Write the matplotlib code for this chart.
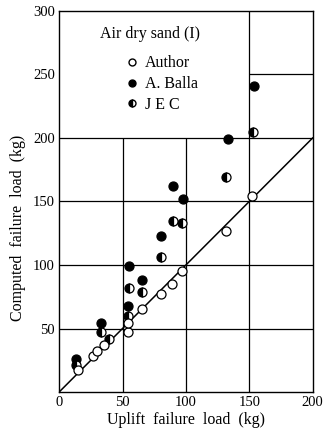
import matplotlib
matplotlib.use("Agg")
import matplotlib.pyplot as plt
from matplotlib.lines import Line2D

plt.rcParams['font.family'] = ['Liberation Serif', 'DejaVu Serif']

# measured (uplift) vs computed failure load, kg
author_x = [15, 27, 30, 35, 54, 54, 65, 80, 89, 97, 132, 152]
author_y = [17, 28, 32, 37, 47, 54, 65, 77, 85, 95, 127, 154]
balla_x = [13, 33, 54, 55, 65, 80, 90, 98, 133, 154]
balla_y = [26, 54, 68, 99, 88, 123, 162, 152, 199, 241]
jec_x = [13, 33, 39, 54, 55, 65, 80, 90, 97, 132, 153]
jec_y = [21, 47, 42, 60, 82, 79, 106, 135, 133, 169, 205]

x_ticks = [0, 50, 100, 150, 200]
y_ticks = [50, 100, 150, 200, 250, 300]

fig = plt.figure(figsize=(3.25, 4.38), dpi=100)
ax = fig.add_axes([0.182, 0.105, 0.780, 0.870])
ax.set_xlim(0, 200)
ax.set_ylim(0, 300)

# grid only where the legend doesn't sit
ax.vlines([50, 100], 0, 200, color='black', lw=0.9)
ax.vlines(150, 0, 300, color='black', lw=0.9)
ax.hlines([50, 100, 150, 200], 0, 200, color='black', lw=0.9)
ax.hlines(250, 150, 200, color='black', lw=0.9)

# 1:1 line
ax.plot([0, 200], [0, 200], color='black', lw=1.1)

ms = 6.5
ax.plot(balla_x, balla_y, 'o', ms=ms, mfc='black', mec='black', mew=0.9)
ax.plot(jec_x, jec_y, 'o', ms=ms, mfc='black', mfcalt='white', fillstyle='left',
        mec='black', mew=0.9)
ax.plot(author_x, author_y, 'o', ms=ms, mfc='white', mec='black', mew=0.9)

for s in ax.spines.values():
    s.set_linewidth(1.0)

ax.set_xticks(x_ticks)
ax.set_yticks(y_ticks)
ax.tick_params(length=0, labelsize=10.5, pad=3)
ax.set_xlabel('Uplift  failure  load  (kg)', fontsize=11.5, labelpad=2)
ax.set_ylabel('Computed  failure  load  (kg)', fontsize=11.5, labelpad=4)
ax.yaxis.set_label_coords(-0.13, 0.43)

ax.text(32, 282, 'Air dry sand (I)', fontsize=11.5, va='center')
handles = [
    Line2D([], [], ls='none', marker='o', ms=5, mfc='white', mec='black'),
    Line2D([], [], ls='none', marker='o', ms=5, mfc='black', mec='black'),
    Line2D([], [], ls='none', marker='o', ms=5, mfc='black', mfcalt='white',
           fillstyle='left', mec='black'),
]
ax.legend(handles, ['Author', 'A. Balla', 'J E C'], loc='upper left',
          bbox_to_anchor=(0.23, 0.90), frameon=False, fontsize=11.5,
          handletextpad=0.3, labelspacing=0.3, handlelength=1.0,
          borderaxespad=0)

fig.savefig('out.png', dpi=100)
